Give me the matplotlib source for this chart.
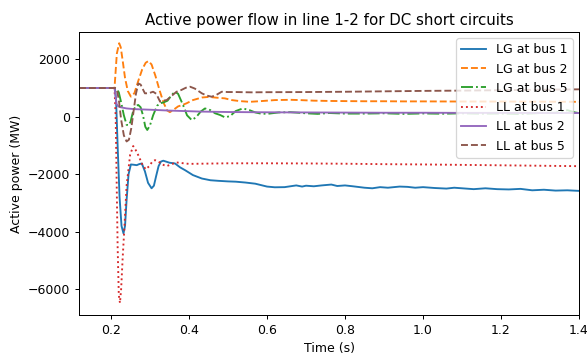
import numpy as np
import matplotlib
matplotlib.use("Agg")
import matplotlib.pyplot as plt

# Time (s) and active power (MW) in line 1-2 for each fault case

t_lg1 = [0.118, 0.210, 0.213, 0.217, 0.222, 0.227, 0.232, 0.236, 0.240, 0.245, 0.251, 0.258,
         0.266, 0.272, 0.279, 0.287, 0.295, 0.304, 0.310, 0.316, 0.322, 0.328, 0.334, 0.341,
         0.350, 0.364, 0.377, 0.390, 0.410, 0.433, 0.455, 0.475, 0.50, 0.52, 0.545, 0.57,
         0.585, 0.60, 0.62, 0.645, 0.66, 0.675, 0.69, 0.70, 0.72, 0.74, 0.765, 0.78, 0.80,
         0.82, 0.85, 0.87, 0.89, 0.91, 0.94, 0.96, 0.98, 1.00, 1.03, 1.06, 1.08, 1.10, 1.13,
         1.16, 1.19, 1.22, 1.25, 1.28, 1.31, 1.34, 1.37, 1.40]
p_lg1 = [1000, 1000, 600, -1000, -2800, -3800, -4060, -3800, -2900, -2000, -1660, -1670,
         -1685, -1650, -1625, -1900, -2300, -2490, -2400, -2050, -1720, -1560, -1530, -1560,
         -1600, -1625, -1760, -1860, -2030, -2150, -2210, -2230, -2250, -2260, -2290, -2330,
         -2380, -2430, -2455, -2450, -2420, -2390, -2430, -2400, -2420, -2390, -2360, -2410, -2390,
         -2420, -2470, -2490, -2450, -2470, -2430, -2440, -2470, -2450, -2480, -2500, -2470, -2490, -2520,
         -2490, -2520, -2530, -2510, -2560, -2540, -2570, -2560, -2580]

t_lg2 = [0.118, 0.209, 0.212, 0.215, 0.221, 0.225, 0.230, 0.236, 0.243, 0.251, 0.260, 0.270,
         0.280, 0.289, 0.296, 0.304, 0.314, 0.325, 0.335, 0.344, 0.351, 0.360, 0.372, 0.385,
         0.394, 0.410, 0.433, 0.450, 0.470, 0.492, 0.51, 0.53, 0.556, 0.58, 0.62, 0.66, 0.685,
         0.72, 0.76, 0.80, 0.85, 0.90, 0.95, 1.00, 1.10, 1.20, 1.30, 1.40]
p_lg2 = [1000, 1000, 1600, 2200, 2560, 2420, 1950, 1350, 900, 700, 820, 1250,
         1650, 1880, 1940, 1820, 1420, 900, 480, 220, 160, 240, 360, 420,
         470, 580, 670, 690, 665, 640, 580, 545, 520, 540, 580, 590, 580,
         560, 550, 545, 540, 540, 535, 535, 530, 530, 525, 520]

t_lg5 = [0.118, 0.210, 0.215, 0.220, 0.226, 0.233, 0.240, 0.245, 0.250, 0.256, 0.263, 0.270,
         0.276, 0.282, 0.288, 0.293, 0.300, 0.308, 0.318, 0.326, 0.335, 0.345, 0.355, 0.364,
         0.372, 0.385, 0.395, 0.407, 0.418, 0.430, 0.441, 0.455, 0.467, 0.48, 0.492, 0.505,
         0.52, 0.538, 0.555, 0.57, 0.582, 0.60, 0.63, 0.66, 0.70, 0.73, 0.76, 0.80, 0.85, 0.90,
         0.95, 1.00, 1.05, 1.10, 1.15, 1.20, 1.25, 1.30, 1.34, 1.37, 1.39, 1.40]
p_lg5 = [1000, 1000, 950, 850, 500, 50, -280, -300, -180, 150, 380, 410,
         330, 50, -350, -460, -300, 50, 380, 470, 500, 560, 750, 870,
         800, 400, 50, -115, -20, 180, 290, 230, 120, 60, -20, 20,
         200, 290, 230, 150, 115, 100, 150, 160, 120, 100, 130, 110, 110, 120,
         100, 115, 105, 120, 110, 115, 100, 130, 140, 230, 150, 130]

t_ll1 = [0.118, 0.209, 0.212, 0.214, 0.217, 0.220, 0.223, 0.226, 0.230, 0.234, 0.240, 0.249,
         0.257, 0.263, 0.270, 0.280, 0.289, 0.298, 0.306, 0.313, 0.325, 0.335, 0.343, 0.355,
         0.368, 0.38, 0.40, 0.45, 0.50, 0.60, 0.70, 0.80, 0.90, 1.00, 1.10, 1.20, 1.30, 1.40]
p_ll1 = [1000, 1000, 0, -1800, -4500, -6200, -6480, -6000, -4900, -3950, -2400, -1330,
         -1020, -1150, -1340, -1650, -1830, -1720, -1560, -1510, -1590, -1680, -1718, -1650,
         -1590, -1610, -1640, -1630, -1620, -1620, -1625, -1635, -1650, -1660, -1675, -1690, -1705, -1720]

t_ll2 = [0.118, 0.209, 0.211, 0.214, 0.218, 0.225, 0.240, 0.260, 0.300, 0.350, 0.430, 0.50,
         0.60, 0.70, 0.80, 0.90, 1.00, 1.10, 1.20, 1.30, 1.40]
p_ll2 = [1000, 1000, 800, 450, 370, 330, 290, 265, 245, 215, 180, 165,
         155, 150, 145, 140, 140, 135, 135, 130, 130]

t_ll5 = [0.118, 0.210, 0.215, 0.220, 0.226, 0.233, 0.240, 0.246, 0.252, 0.258, 0.264, 0.270,
         0.276, 0.282, 0.287, 0.297, 0.308, 0.316, 0.326, 0.334, 0.343, 0.355, 0.368, 0.380,
         0.392, 0.403, 0.415, 0.433, 0.445, 0.458, 0.470, 0.484, 0.50, 0.52, 0.56, 0.60, 0.70,
         0.80, 0.90, 1.00, 1.10, 1.20, 1.30, 1.40]
p_ll5 = [1000, 1000, 950, 600, -100, -650, -860, -800, -400, 200, 800, 1160,
         1120, 950, 815, 820, 871, 800, 523, 560, 582, 720, 871, 930,
         1010, 1045, 980, 815, 740, 697, 760, 871, 860, 860, 850, 855, 860,
         870, 885, 900, 910, 925, 940, 955]

series = [
    (t_lg1, p_lg1, "LG at bus 1", "-"),
    (t_lg2, p_lg2, "LG at bus 2", "--"),
    (t_lg5, p_lg5, "LG at bus 5", "-."),
    (t_ll1, p_ll1, "LL at bus 1", ":"),
    (t_ll2, p_ll2, "LL at bus 2", "-"),
    (t_ll5, p_ll5, "LL at bus 5", "--"),
]

DPI = 90
fig, ax = plt.subplots(figsize=(587 / DPI, 356 / DPI), dpi=DPI)
fig.subplots_adjust(left=0.1346, right=0.9864, top=0.9101, bottom=0.1152)

for t, p, label, ls in series:
    ax.plot(t, p, linestyle=ls, label=label)

ax.set_xlim(0.118, 1.4)
ax.set_ylim(-6900, 2950)
ax.set_xticks([0.2, 0.4, 0.6, 0.8, 1.0, 1.2, 1.4])
ax.set_yticks([-6000, -4000, -2000, 0, 2000])
ax.set_title("Active power flow in line 1-2 for DC short circuits")
ax.set_xlabel("Time (s)")
ax.set_ylabel("Active power (MW)")
ax.legend(loc="upper right")

fig.savefig("out.png", dpi=DPI)
